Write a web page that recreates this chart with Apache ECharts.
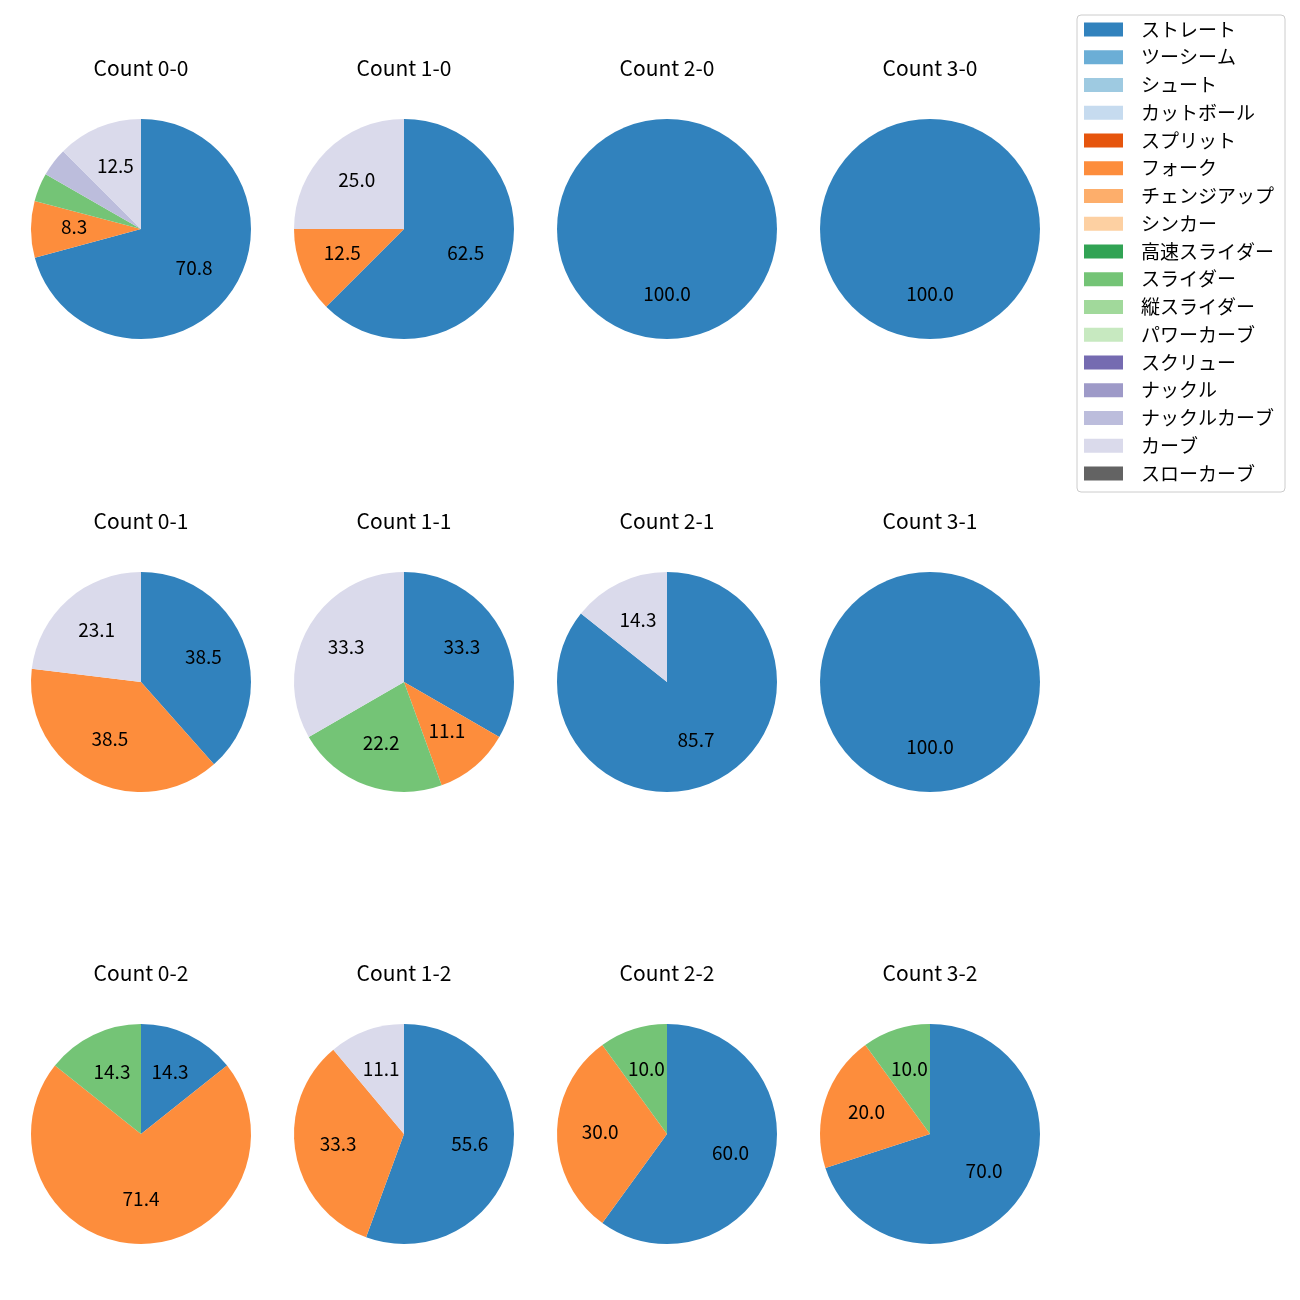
<!DOCTYPE html>
<html><head><meta charset="utf-8">
<script src="https://cdn.jsdelivr.net/npm/echarts@6/dist/echarts.min.js"></script>
<style>html,body{margin:0;padding:0;background:#fff}#c{width:1300px;height:1300px}</style>
</head><body><div id="c"></div>
<script>
const pitchTypes = ['ストレート','ツーシーム','シュート','カットボール','スプリット','フォーク','チェンジアップ','シンカー','高速スライダー','スライダー','縦スライダー','パワーカーブ','スクリュー','ナックル','ナックルカーブ','カーブ','スローカーブ'];
const pitchColors = ['#3182bd','#6baed6','#9ecae1','#c6dbef','#e6550d','#fd8d3c','#fdae6b','#fdd0a2','#31a354','#74c476','#a1d99b','#c7e9c0','#756bb1','#9e9ac8','#bcbddc','#dadaeb','#636363'];
const countTitles = ['Count 0-0','Count 1-0','Count 2-0','Count 3-0','Count 0-1','Count 1-1','Count 2-1','Count 3-1','Count 0-2','Count 1-2','Count 2-2','Count 3-2'];
// percentages, in pitchTypes order
const count00 = [70.8,0,0,0,0,8.3,0,0,0,4.2,0,0,0,0,4.2,12.5,0];
const count10 = [62.5,0,0,0,0,12.5,0,0,0,0,0,0,0,0,0,25.0,0];
const count20 = [100.0,0,0,0,0,0,0,0,0,0,0,0,0,0,0,0,0];
const count30 = [100.0,0,0,0,0,0,0,0,0,0,0,0,0,0,0,0,0];
const count01 = [38.5,0,0,0,0,38.5,0,0,0,0,0,0,0,0,0,23.1,0];
const count11 = [33.3,0,0,0,0,11.1,0,0,0,22.2,0,0,0,0,0,33.3,0];
const count21 = [85.7,0,0,0,0,0,0,0,0,0,0,0,0,0,0,14.3,0];
const count31 = [100.0,0,0,0,0,0,0,0,0,0,0,0,0,0,0,0,0];
const count02 = [14.3,0,0,0,0,71.4,0,0,0,14.3,0,0,0,0,0,0,0];
const count12 = [55.6,0,0,0,0,33.3,0,0,0,0,0,0,0,0,0,11.1,0];
const count22 = [60.0,0,0,0,0,30.0,0,0,0,10.0,0,0,0,0,0,0,0];
const count32 = [70.0,0,0,0,0,20.0,0,0,0,10.0,0,0,0,0,0,0,0];
const allCounts = [count00,count10,count20,count30,count01,count11,count21,count31,count02,count12,count22,count32];

// layout
const colX = [141, 404, 667, 930];
const rowY = [229, 682, 1134];
const R = 110;
const FONT = '"Noto Sans CJK JP", "Noto Sans", sans-serif';

const chart = echarts.init(document.getElementById('c'), null, {renderer: 'canvas'});
const titles = [];
const pieSeries = [];
const labelSeries = [];
allCounts.forEach((vals, i) => {
  const cx = colX[i % 4], cy = rowY[Math.floor(i / 4)];
  const total = vals.reduce((a, b) => a + b, 0);
  titles.push({
    text: countTitles[i], left: cx - 5, top: cy - R - 66.5, textAlign: 'center',
    textStyle: {fontFamily: FONT, fontSize: 21, fontWeight: 'normal', color: '#000'}
  });
  const data = pitchTypes.map((n, k) => ({name: n, value: vals[k], itemStyle: {color: pitchColors[k]}}));
  pieSeries.push({
    type: 'pie', center: [cx, cy], radius: [0, R], startAngle: 90, clockwise: true,
    silent: true, label: {show: false}, labelLine: {show: false},
    itemStyle: {borderWidth: 0}, emphasis: {disabled: true}, animation: false,
    data: data
  });
  labelSeries.push({
    type: 'pie', center: [cx, cy], radius: [R * 0.16, R], startAngle: 90, clockwise: true,
    silent: true, labelLine: {show: false}, emphasis: {disabled: true}, animation: false,
    itemStyle: {color: 'rgba(0,0,0,0)', borderWidth: 0},
    label: {
      show: true, position: 'inside', fontFamily: FONT, fontSize: 19, color: '#000', offset: [0, -2],
      formatter: p => { const pct = p.value / total * 100; return pct >= 5 ? pct.toFixed(1) : ''; }
    },
    data: pitchTypes.map((n, k) => ({name: n, value: vals[k]}))
  });
});

chart.setOption({
  backgroundColor: '#fff',
  animation: false,
  title: titles,
  legend: {
    orient: 'vertical', left: 1077, top: 15,
    data: pitchTypes,
    icon: 'rect', itemWidth: 39, itemHeight: 14, itemGap: 8.75,
    padding: [5, 11, 9, 7],
    borderColor: '#cccccc', borderWidth: 1, borderRadius: 4,
    selectedMode: false,
    textStyle: {fontFamily: FONT, fontSize: 19, color: '#000', padding: [0, 0, 0, 13]}
  },
  series: pieSeries.concat(labelSeries)
});
</script>
</body></html>
